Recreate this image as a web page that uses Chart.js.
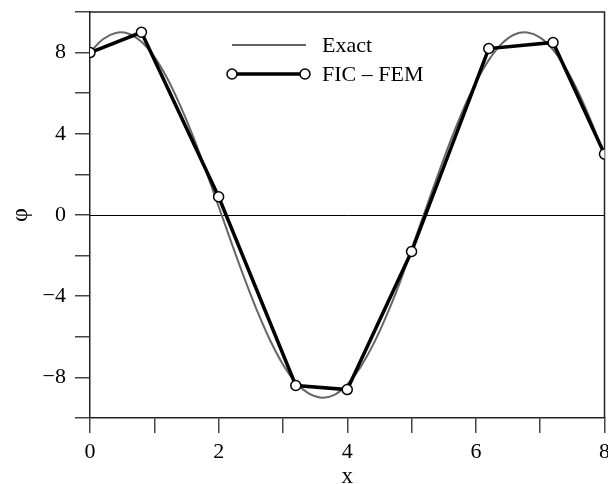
<!DOCTYPE html>
<html><head><meta charset="utf-8">
<script src="https://cdn.jsdelivr.net/npm/chart.js@4/dist/chart.umd.min.js"></script>
<style>html,body{margin:0;padding:0;background:#fff;overflow:hidden}#wrap{width:608px;height:484px;overflow:hidden}</style>
</head><body><div id="wrap"><canvas id="c" width="611" height="484"></canvas></div>
<script>
const exactX = [0,0.2,0.4,0.6,0.8,1.0,1.2,1.4,1.6,1.8,2.0,2.2,2.4,2.6,2.8,3.0,3.2,3.4,3.6,3.8,4.0,4.2,4.4,4.6,4.8,5.0,5.2,5.4,5.6,5.8,6.0,6.2,6.4,6.6,6.8,7.0,7.2,7.4,7.6,7.8,8.0];
const exactY = [8.00,8.66,8.97,8.93,8.53,7.79,6.74,5.41,3.90,2.20,0.42,-1.37,-3.11,-4.73,-6.17,-7.36,-8.25,-8.79,-9.00,-8.86,-8.35,-7.52,-6.40,-5.03,-3.48,-1.68,0.11,1.89,3.60,5.17,6.53,7.63,8.43,8.89,8.99,8.74,8.14,7.22,6.00,4.55,2.90];
const femX = [0,0.8,2,3.2,4,5,6.2,7.2,8];
const femY = [8,9,0.9,-8.4,-8.6,-1.8,8.2,8.5,3];
const seriesNames = ['Exact','FIC – FEM'];
const xTickLabels = [0,2,4,6,8];
const yTickLabels = [-8,-4,0,4,8];

const FONT = '"Liberation Serif", "DejaVu Serif", serif';
const fmt = v => String(v).replace('-', '\u2212');

const framePlugin = {
  id: 'frame',
  beforeDatasetsDraw(chart) {
    const {ctx, chartArea: a, scales} = chart;
    ctx.save();
    ctx.strokeStyle = '#000'; ctx.lineWidth = 1;
    const y0 = Math.round(scales.y.getPixelForValue(0)) + 0.5;
    ctx.beginPath(); ctx.moveTo(a.left, y0); ctx.lineTo(a.right, y0); ctx.stroke();
    ctx.strokeStyle = '#222'; ctx.lineWidth = 1.5;
    ctx.beginPath();
    ctx.moveTo(a.left, a.top); ctx.lineTo(a.right, a.top); ctx.lineTo(a.right, a.bottom);
    ctx.stroke();
    ctx.restore();
  },
  afterDraw(chart) {
    const {ctx} = chart;
    const ds = chart.data.datasets;
    ctx.save();
    ctx.font = '22px ' + FONT;
    ctx.textBaseline = 'middle';
    ctx.fillStyle = '#000';
    ctx.strokeStyle = ds[0].borderColor; ctx.lineWidth = ds[0].borderWidth;
    ctx.beginPath(); ctx.moveTo(232, 45); ctx.lineTo(306, 45); ctx.stroke();
    ctx.fillText(ds[0].label, 322, 46);
    ctx.strokeStyle = ds[1].borderColor; ctx.lineWidth = ds[1].borderWidth;
    ctx.beginPath(); ctx.moveTo(232, 74); ctx.lineTo(305, 74); ctx.stroke();
    ctx.lineWidth = ds[1].pointBorderWidth;
    [232, 305].forEach(px => {
      ctx.beginPath(); ctx.arc(px, 74, ds[1].pointRadius, 0, Math.PI*2);
      ctx.fillStyle = '#fff'; ctx.fill(); ctx.stroke();
    });
    ctx.fillStyle = '#000';
    ctx.fillText(ds[1].label, 322, 75);
    ctx.restore();
  }
};

new Chart(document.getElementById('c'), {
  type: 'scatter',
  data: {
    datasets: [
      { label: seriesNames[0], data: exactX.map((x,i)=>({x, y: exactY[i]})), showLine: true,
        borderColor: '#666', borderWidth: 2, pointRadius: 0, tension: 0.4, order: 2 },
      { label: seriesNames[1], data: femX.map((x,i)=>({x, y: femY[i]})), showLine: true,
        borderColor: '#000', borderWidth: 3.5, pointRadius: 5, pointBorderWidth: 1.5,
        pointBackgroundColor: '#fff', pointBorderColor: '#000', tension: 0, order: 1 }
    ]
  },
  options: {
    responsive: false, animation: false,
    layout: { padding: { top: 12, right: 1, left: 0, bottom: 0 } },
    plugins: { legend: { display: false }, tooltip: { enabled: false } },
    scales: {
      x: {
        type: 'linear', min: 0, max: 8,
        afterFit(s) { s.height = 66; s.paddingLeft = 0; s.paddingRight = 0; },
        ticks: { stepSize: 1, autoSkip: false, maxRotation: 0, padding: 6, color: '#000',
          font: { family: FONT, size: 22 },
          callback: v => xTickLabels.includes(v) ? fmt(v) : '' },
        grid: { drawOnChartArea: false, tickLength: 15, color: '#444', lineWidth: 1.5 },
        border: { color: '#222', width: 1.5 },
        title: { display: true, text: 'x', color: '#000', font: { family: FONT, size: 23 }, padding: { top: 0, bottom: -7 } }
      },
      y: {
        type: 'linear', min: -10, max: 10,
        afterFit(s) { s.width = 90; s.paddingTop = 0; s.paddingBottom = 0; },
        ticks: { stepSize: 2, autoSkip: false, padding: 9, color: '#000',
          font: { family: FONT, size: 22 },
          callback: v => yTickLabels.includes(v) ? fmt(v) : '' },
        grid: { drawOnChartArea: false, tickLength: 15, color: '#444', lineWidth: 1.5 },
        border: { color: '#222', width: 1.5 },
        title: { display: true, text: 'φ', color: '#000', font: { family: FONT, size: 24 }, padding: { top: 6, bottom: 6 } }
      }
    }
  },
  plugins: [framePlugin]
});
</script>
</body></html>
